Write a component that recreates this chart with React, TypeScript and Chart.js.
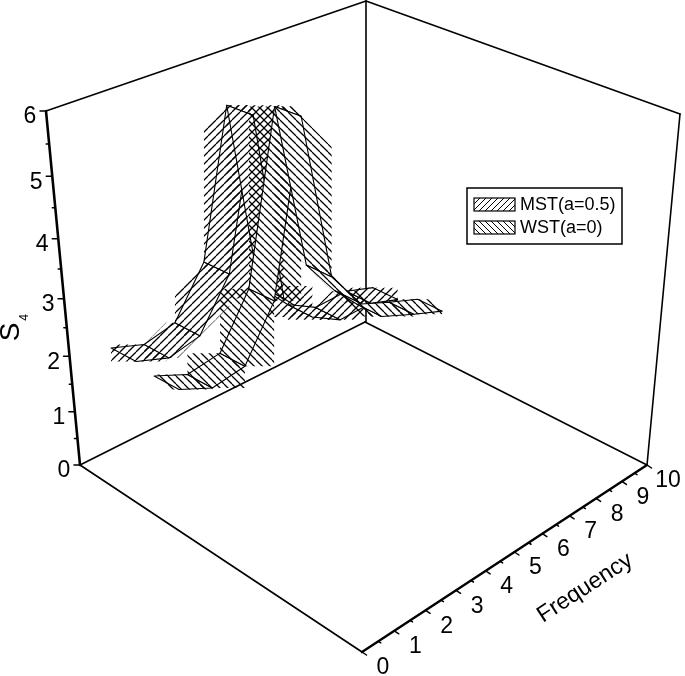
import React, { useEffect, useRef } from "react";
import { Chart, registerables } from "chart.js";
Chart.register(...registerables);

// ---- data ----
const mstFrequency = [0.19, 1.15, 2.11, 3.1, 4.02, 4.82, 5.77, 6.75, 7.87, 8.88];
const mstS4 = [2.45, 2.26, 2.39, 3.2, 5.57, 2.37, 1.8, 1.5, 1.53, 1.35];
const wstFrequency = [0.15, 1.12, 2.13, 3.1, 4.07, 4.96, 5.91, 6.68, 7.85, 8.92];
const wstS4 = [2.39, 2.16, 2.26, 3.11, 5.81, 3.08, 2.41, 1.98, 1.73, 1.52];
const mstDepth = 0.83;
const wstDepth = 0.68;
const ribbonWidth = 0.085;
const s4Ticks = [0, 1, 2, 3, 4, 5, 6];
const s4MinorTicks = [0.5, 1.5, 2.5, 3.5, 4.5, 5.5];
const freqTicks = [0, 1, 2, 3, 4, 5, 6, 7, 8, 9, 10];
const freqMinorTicks = [0.5, 1.5, 2.5, 3.5, 4.5, 5.5, 6.5, 7.5, 8.5, 9.5];
const legendLabels = ["MST(a=0.5)", "WST(a=0)"];

// ---- 3D box projection ----
const W = 685, H = 676;
const FONT = '"Liberation Sans", Arial, sans-serif';
const warp = (t: number, c: number) => t / (t + c * (1 - t));
const FLOOR = [[362, 652], [647, 465], [80, 465], [365, 322]];
const ROOF = [[360, 224], [680, 114], [46, 111], [366, 1]];
function project(f: number, d: number, s: number) {
  const u = warp(f / 10, 0.87), v = d, w = warp(s / 6, 1.128);
  const bl = (C: number[][], i: number) =>
    (1 - u) * (1 - v) * C[0][i] + u * (1 - v) * C[1][i] + (1 - u) * v * C[2][i] + u * v * C[3][i];
  return { x: bl(FLOOR, 0) * (1 - w) + bl(ROOF, 0) * w, y: bl(FLOOR, 1) * (1 - w) + bl(ROOF, 1) * w };
}

function hatch(size: number, rising: boolean, lw: number) {
  const c = document.createElement("canvas");
  c.width = c.height = size;
  const x = c.getContext("2d")!;
  x.strokeStyle = "#000";
  x.lineWidth = lw;
  for (const o of [-size, 0, size]) {
    x.beginPath();
    if (rising) { x.moveTo(o, size); x.lineTo(o + size, 0); }
    else { x.moveTo(o, 0); x.lineTo(o + size, size); }
    x.stroke();
  }
  return c;
}

type P = { x: number; y: number };
const base = { showLine: true, pointRadius: 0, tension: 0, pointHitRadius: 0, clip: false as const };
const seg = (data: P[], borderWidth: number, label = "") => ({
  ...base, label, data, borderColor: "#000", borderWidth, backgroundColor: "transparent", fill: false,
  borderCapStyle: "round" as const, borderJoinStyle: "round" as const,
});

// keep the part of a polygon where g(p) <= limit
function clipHalf(poly: P[], g: (p: P) => number, limit: number) {
  const out: P[] = [];
  poly.forEach((a, i) => {
    const b = poly[(i + 1) % poly.length];
    const ga = g(a) - limit, gb = g(b) - limit;
    if (ga <= 0) out.push(a);
    if (ga * gb < 0) {
      const t = ga / (ga - gb);
      out.push({ x: a.x + (b.x - a.x) * t, y: a.y + (b.y - a.y) * t });
    }
  });
  return out;
}

function ribbonDatasets(label: string, freq: number[], s4: number[], depth: number, pattern: CanvasPattern, rising: boolean) {
  const out: any[] = [];
  for (let i = 0; i < freq.length - 1; i++) {
    const q = [
      project(freq[i], depth + ribbonWidth / 2, s4[i]),
      project(freq[i + 1], depth + ribbonWidth / 2, s4[i + 1]),
      project(freq[i + 1], depth - ribbonWidth / 2, s4[i + 1]),
      project(freq[i], depth - ribbonWidth / 2, s4[i]),
    ];
    const loop = [...q, q[0]];
    const xs = q.map(p => p.x), ys = q.map(p => p.y);
    const x0 = Math.min(...xs), x1 = Math.max(...xs), y0 = Math.min(...ys), y1 = Math.max(...ys);
    // hatch lines run from edge to edge of the cell's box, for every line that touches the cell
    const g = rising ? (p: P) => p.x + p.y : (p: P) => p.x - p.y;
    const gs = q.map(g);
    let box: P[] = [{ x: x0, y: y0 }, { x: x1, y: y0 }, { x: x1, y: y1 }, { x: x0, y: y1 }];
    box = clipHalf(box, g, Math.max(...gs));
    box = clipHalf(box, p => -g(p), -Math.min(...gs));
    const boxLoop = [...box, box[0]];
    out.push({ ...base, label, data: loop, borderWidth: 0, borderColor: "transparent", backgroundColor: "#fff", fill: "shape" });
    out.push({ ...base, label, data: boxLoop, borderWidth: 0, borderColor: "transparent", backgroundColor: pattern, fill: "shape" });
    out.push(seg(loop, 1.1, label));
  }
  return out;
}

export default function App() {
  const ref = useRef<HTMLCanvasElement>(null);
  useEffect(() => {
    const canvas = ref.current!;
    const ctx = canvas.getContext("2d")!;
    const mstPat = ctx.createPattern(hatch(8, true, 1.25), "repeat")!;
    const wstPat = ctx.createPattern(hatch(8, false, 1.25), "repeat")!;
    const mstSwatch = ctx.createPattern(hatch(6, true, 1), "repeat")!;
    const wstSwatch = ctx.createPattern(hatch(6, false, 1), "repeat")!;

    const corner = (f: number, d: number, s: number) => project(f, d, s);
    const frame = [
      seg([corner(0, 1, 0), corner(0, 0, 0)], 1.6),
      seg([corner(0, 1, 0), corner(10, 1, 0)], 1.6),
      seg([corner(10, 1, 0), corner(10, 0, 0)], 1.6),
      seg([corner(10, 1, 0), corner(10, 1, 6)], 1.6),
      seg([corner(10, 0, 0), corner(10, 0, 6)], 1.6),
      seg([corner(0, 1, 6), corner(10, 1, 6)], 1.6),
      seg([corner(10, 1, 6), corner(10, 0, 6)], 1.6),
      seg([corner(0, 0, 0), corner(10, 0, 0)], 2.4),
      seg([corner(0, 1, 0), corner(0, 1, 6)], 2.6),
    ];
    const off = (p: P, dx: number, dy: number) => ({ x: p.x + dx, y: p.y + dy });
    const ticks = [
      ...s4Ticks.map(s => { const p = project(0, 1, s); return seg([p, off(p, -6, 0)], 1.5); }),
      ...s4MinorTicks.map(s => { const p = project(0, 1, s); return seg([p, off(p, -3, 0)], 1.5); }),
      ...freqTicks.map(f => { const p = project(f, 0, 0); return seg([p, off(p, 4.5, 3)], 1.5); }),
      ...freqMinorTicks.map(f => { const p = project(f, 0, 0); return seg([p, off(p, 2.5, 1.5)], 1.5); }),
    ];

    // painter's order: far to near
    const painted = [
      ...frame,
      ...ticks,
      ...ribbonDatasets("MST(a=0.5)", mstFrequency, mstS4, mstDepth, mstPat, true),
      ...ribbonDatasets("WST(a=0)", wstFrequency, wstS4, wstDepth, wstPat, false),
    ];

    const annotate = {
      id: "annotate",
      afterDatasetsDraw(chart: Chart) {
        const c = chart.ctx;
        c.save();
        c.fillStyle = "#000";
        c.textAlign = "center";
        c.textBaseline = "middle";
        c.font = `23px ${FONT}`;
        s4Ticks.forEach(s => {
          const p = project(0, 1, s);
          c.fillText(String(s), p.x - 16, p.y + 6);
        });
        freqTicks.forEach(f => {
          const p = project(f, 0, 0);
          c.fillText(String(f), p.x + 21, p.y + 16);
        });
        // Frequency title
        c.save();
        c.translate(585, 588);
        c.rotate((-33 * Math.PI) / 180);
        c.font = `23px ${FONT}`;
        c.fillText("Frequency", 0, 0);
        c.restore();
        // S4 title
        c.save();
        c.translate(11, 332);
        c.rotate(-Math.PI / 2);
        c.font = `28px ${FONT}`;
        c.fillText("S", 0, 0);
        c.font = `12px ${FONT}`;
        c.fillText("4", 14.5, 14);
        c.restore();
        // Legend
        c.fillStyle = "#fff";
        c.fillRect(467, 188, 155, 56);
        c.strokeStyle = "#000";
        c.lineWidth = 1.5;
        c.strokeRect(467, 188, 155, 56);
        [mstSwatch, wstSwatch].forEach((pat, i) => {
          const y = 198 + i * 23;
          c.fillStyle = pat;
          c.fillRect(474, y, 41, 13);
          c.lineWidth = 1.2;
          c.strokeRect(474, y, 41, 13);
        });
        c.fillStyle = "#000";
        c.textAlign = "left";
        c.font = `18px ${FONT}`;
        legendLabels.forEach((t, i) => c.fillText(t, 520, 205 + i * 23));
        c.restore();
      },
    };

    const chart = new Chart(canvas, {
      type: "scatter",
      // Chart.js draws the first dataset last, so the painter's order is reversed
      data: { datasets: painted.slice().reverse() },
      options: {
        animation: false,
        responsive: false,
        devicePixelRatio: 1,
        layout: { padding: 0 },
        events: [],
        plugins: { legend: { display: false }, tooltip: { enabled: false } },
        scales: {
          x: { type: "linear", min: 0, max: W, display: false },
          y: { type: "linear", min: 0, max: H, reverse: true, display: false },
        },
      },
      plugins: [annotate],
    } as any);
    return () => chart.destroy();
  }, []);
  return (
    <canvas
      ref={ref}
      width={W}
      height={H}
      style={{ position: "absolute", left: 0, top: 0, width: W, height: H, display: "block" }}
    />
  );
}
